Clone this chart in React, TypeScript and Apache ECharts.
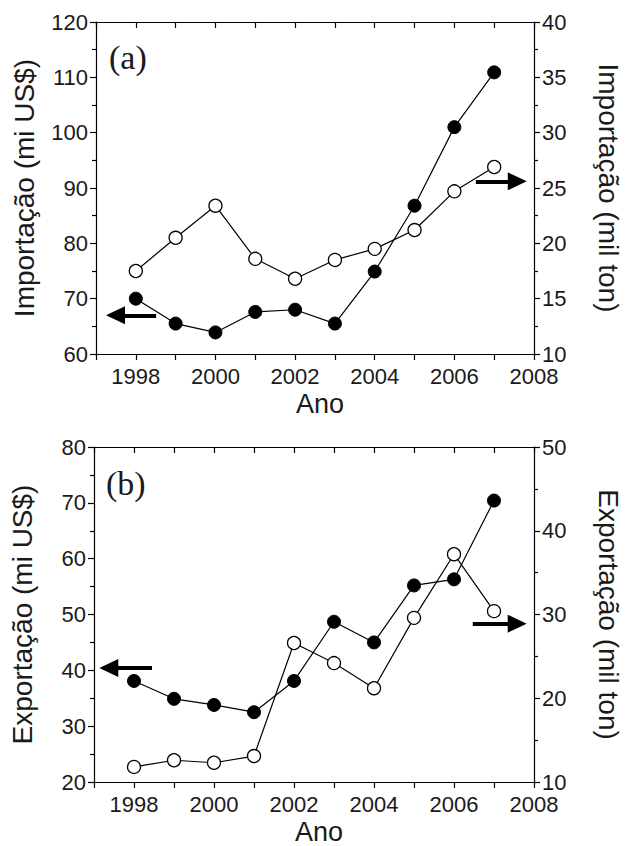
import React, { useEffect, useRef } from "react";
import * as echarts from "echarts";

const years = [1998, 1999, 2000, 2001, 2002, 2003, 2004, 2005, 2006, 2007];
// (a) Importação
const impValueUSD = [70.0, 65.5, 63.9, 67.6, 68.0, 65.5, 74.9, 86.8, 101.0, 110.9];
const impTon = [17.5, 20.5, 23.4, 18.6, 16.8, 18.5, 19.5, 21.2, 24.7, 26.9];
// (b) Exportação
const expValueUSD = [38.1, 34.9, 33.8, 32.5, 38.1, 48.7, 45.0, 55.2, 56.3, 70.4];
const expTon = [11.8, 12.6, 12.3, 13.1, 26.6, 24.2, 21.2, 29.6, 37.2, 30.4];

const SANS = "Liberation Sans";
const SERIF = "Liberation Serif";
const INK = "#1a1a1a";

const pairs = (vals: number[]) => years.map((y, i) => [y, vals[i]]);

export default function App() {
  const ref = useRef<HTMLDivElement>(null);
  useEffect(() => {
    if (!ref.current) return;
    const chart = echarts.init(ref.current, undefined, { renderer: "svg" });

    const xBottom = (gridIndex: number) => ({
      type: "value",
      gridIndex,
      position: "bottom",
      min: 1997,
      max: 2008,
      interval: 1,
      name: "Ano",
      nameLocation: "middle",
      nameGap: 36,
      nameTextStyle: { fontFamily: SANS, fontSize: 27, color: INK, padding: [0, 0, 0, 10] },
      axisLine: { show: true, onZero: false, lineStyle: { color: "#000", width: 1.2 } },
      axisTick: { show: true, inside: false, length: 6, lineStyle: { color: "#000", width: 1.2 } },
      axisLabel: {
        fontFamily: SANS,
        fontSize: 22,
        lineHeight: 20,
        color: INK,
        margin: 12,
        formatter: (v: number) => (v % 2 === 0 ? String(v) : ""),
      },
      splitLine: { show: false },
    });
    const xTop = (gridIndex: number) => ({
      type: "value",
      gridIndex,
      position: "top",
      min: 1997,
      max: 2008,
      interval: 1,
      axisLine: { show: true, onZero: false, lineStyle: { color: "#000", width: 1.2 } },
      axisTick: { show: true, inside: true, length: 6, lineStyle: { color: "#000", width: 1.2 } },
      axisLabel: { show: false },
      splitLine: { show: false },
    });
    const yAx = (
      gridIndex: number,
      position: "left" | "right",
      min: number,
      max: number,
      interval: number,
      name: string
    ) => ({
      type: "value",
      gridIndex,
      position,
      min,
      max,
      interval,
      name,
      nameLocation: "middle",
      nameGap: position === "left" ? 58 : 60,
      nameRotate: position === "left" ? 90 : -90,
      nameTextStyle: { fontFamily: SANS, fontSize: 28, color: INK },
      axisLine: { show: true, onZero: false, lineStyle: { color: "#000", width: 1.2 } },
      axisTick: { show: true, inside: false, length: 6, lineStyle: { color: "#000", width: 1.2 } },
      minorTick: { show: true, splitNumber: 2, length: 4, lineStyle: { color: "#000", width: 1.2 } },
      axisLabel: { fontFamily: SANS, fontSize: 22, lineHeight: 18, color: INK, margin: 8 },
      splitLine: { show: false },
      minorSplitLine: { show: false },
    });

    const arrow = (from: number[], to: number[]) => ({
      silent: true,
      symbol: ["none", "triangle"],
      symbolSize: [18, 19],
      label: { show: false },
      emphasis: { disabled: true },
      lineStyle: { color: "#000", width: 4, type: "solid" },
      data: [[{ coord: from }, { coord: to }]],
    });

    const filled = (xi: number, yi: number, vals: number[], ml: any) => ({
      type: "line",
      xAxisIndex: xi,
      yAxisIndex: yi,
      data: pairs(vals),
      symbol: "circle",
      symbolSize: 13,
      showAllSymbol: true,
      lineStyle: { color: "#000", width: 1.2 },
      itemStyle: { color: "#000", borderColor: "#000", borderWidth: 1 },
      emphasis: { disabled: true },
      markLine: ml,
      z: 3,
    });
    const open = (xi: number, yi: number, vals: number[], ml: any) => ({
      type: "line",
      xAxisIndex: xi,
      yAxisIndex: yi,
      data: pairs(vals),
      symbol: "circle",
      symbolSize: 13,
      showAllSymbol: true,
      lineStyle: { color: "#000", width: 1.2 },
      itemStyle: { color: "#fff", borderColor: "#000", borderWidth: 1.3 },
      emphasis: { disabled: true },
      markLine: ml,
      z: 2,
    });

    chart.setOption({
      animation: false,
      backgroundColor: "#fff",
      grid: [
        { left: 96, right: 89, top: 22, height: 332, containLabel: false },
        { left: 94, right: 89, top: 447, height: 335, containLabel: false },
      ],
      xAxis: [xBottom(0), xTop(0), xBottom(1), xTop(1)],
      yAxis: [
        yAx(0, "left", 60, 120, 10, "Importação (mi US$)"),
        yAx(0, "right", 10, 40, 5, "Importação (mil ton)"),
        yAx(1, "left", 20, 80, 10, "Exportação (mi US$)"),
        yAx(1, "right", 10, 50, 10, "Exportação (mil ton)"),
      ],
      series: [
        open(0, 1, impTon, arrow([2006.54, 25.6], [2007.58, 25.6])),
        filled(0, 0, impValueUSD, arrow([1998.51, 67.0], [1997.49, 67.0])),
        open(2, 3, expTon, arrow([2006.47, 28.9], [2007.58, 28.9])),
        filled(2, 2, expValueUSD, arrow([1998.45, 40.4], [1997.37, 40.4])),
      ],
      graphic: [
        {
          type: "text",
          left: 109,
          top: 40,
          style: { text: "(a)", fontFamily: SERIF, fontSize: 34, fill: INK },
        },
        {
          type: "text",
          left: 106,
          top: 466,
          style: { text: "(b)", fontFamily: SERIF, fontSize: 34, fill: INK },
        },
      ],
    });
    return () => chart.dispose();
  }, []);
  return (
    <div
      ref={ref}
      style={{ position: "fixed", left: 0, top: 0, width: 630, height: 846 }}
    />
  );
}
